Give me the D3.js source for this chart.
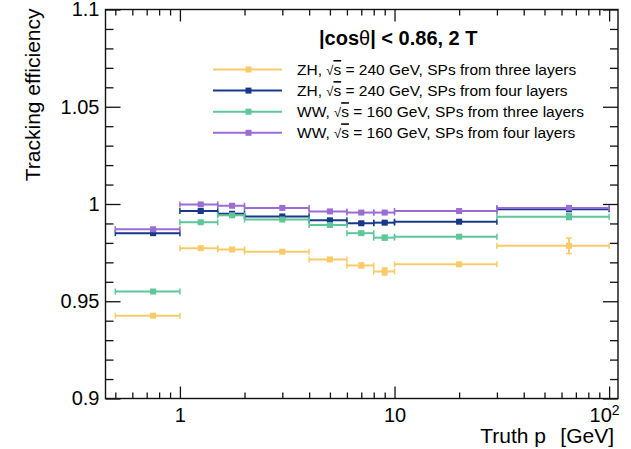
<!DOCTYPE html>
<html>
<head>
<meta charset="utf-8">
<script src="https://cdn.jsdelivr.net/npm/d3@7"></script>
<style>
  body { margin: 0; background: #fff; }
  svg { display: block; font-family: "Liberation Sans", Arial, Helvetica, sans-serif; }
</style>
</head>
<body>
<script>
// bin edges in truth pT [GeV]
const binLo = [0.5, 1, 1.5, 2, 4, 6, 8, 10, 30];
const binHi = [1, 1.5, 2, 4, 6, 8, 10, 30, 100];

// efficiencies
const zh3 = [0.9426, 0.9773, 0.9766, 0.9755, 0.9715, 0.9684, 0.9653, 0.9690, 0.9785];
const zh3Err = [0.0005, 0.0006, 0.0006, 0.0005, 0.0008, 0.0012, 0.0018, 0.0008, 0.0040];
const zh4 = [0.9850, 0.9964, 0.9950, 0.9936, 0.9916, 0.9901, 0.9904, 0.9909, 0.9973];
const zh4Err = [0.0004, 0.0004, 0.0004, 0.0003, 0.0005, 0.0006, 0.0006, 0.0004, 0.0010];
const ww3 = [0.9550, 0.9906, 0.9942, 0.9920, 0.9892, 0.9850, 0.9827, 0.9832, 0.9935];
const ww3Err = [0.0004, 0.0005, 0.0005, 0.0004, 0.0006, 0.0008, 0.0012, 0.0008, 0.0015];
const ww4 = [0.9870, 0.9998, 0.9991, 0.9980, 0.9962, 0.9956, 0.9956, 0.9964, 0.9980];
const ww4Err = [0.0004, 0.0003, 0.0003, 0.0003, 0.0004, 0.0005, 0.0005, 0.0004, 0.0008];

const seriesNames = [
  ["ZH, ", " = 240 GeV, SPs from three layers"],
  ["ZH, ", " = 240 GeV, SPs from four layers"],
  ["WW, ", " = 160 GeV, SPs from three layers"],
  ["WW, ", " = 160 GeV, SPs from four layers"]
];
const seriesColors = ["#f8cb68", "#17388b", "#5fc69a", "#9a6cd4"];
const seriesVals = [zh3, zh4, ww3, ww4];
const seriesErrs = [zh3Err, zh4Err, ww3Err, ww4Err];

const xMajor = [1, 10, 100];
const yMajor = [0.9, 0.95, 1, 1.05, 1.1];

const W = 631, H = 449;
const frame = { left: 105.5, right: 618, top: 9.5, bottom: 398.5 };

const x = d3.scaleLog().domain([0.45, 110]).range([frame.left, frame.right]);
const y = d3.scaleLinear().domain([0.9, 1.1]).range([frame.bottom, frame.top]);

const xMinor = [];
[0.1, 1, 10].forEach(dec => d3.range(2, 10).forEach(k => {
  const v = +(dec * k).toPrecision(3);
  if (v >= 0.45 && v <= 110) xMinor.push(v);
}));
const yMinor = d3.range(0, 21).map(i => +(0.9 + i * 0.01).toFixed(2)).filter(v => !yMajor.includes(v));

const svg = d3.select("body").append("svg")
  .attr("width", W)
  .attr("height", H);

// frame
svg.append("rect")
  .attr("x", frame.left).attr("y", frame.top)
  .attr("width", frame.right - frame.left)
  .attr("height", frame.bottom - frame.top)
  .attr("fill", "none")
  .attr("stroke", "#111")
  .attr("stroke-width", 1.4);

const styleAxis = g => {
  g.select(".domain").remove();
  g.selectAll("line").attr("stroke", "#111").attr("stroke-width", 1.3);
  g.selectAll("text").attr("fill", "#000").style("font-size", "20px")
    .style("font-family", "'Liberation Sans', Arial, sans-serif");
};

// x axis: bottom with labels, top mirrored
const xAxis = svg.append("g")
  .attr("transform", `translate(0,${frame.bottom})`)
  .call(d3.axisBottom(x).tickValues(xMajor).tickSize(-12).tickPadding(9).tickFormat(d => d === 100 ? "10" : String(d)))
  .call(styleAxis);
xAxis.selectAll(".tick").filter(d => d === 100).select("text")
  .attr("text-anchor", "end")
  .attr("x", 10)
  .append("tspan")
  .attr("dy", "-0.45em")
  .style("font-size", "14px")
  .text("2");

svg.append("g")
  .attr("transform", `translate(0,${frame.bottom})`)
  .call(d3.axisBottom(x).tickValues(xMinor).tickSize(-6).tickFormat(""))
  .call(styleAxis);
svg.append("g")
  .attr("transform", `translate(0,${frame.top})`)
  .call(d3.axisTop(x).tickValues(xMajor).tickSize(-12).tickFormat(""))
  .call(styleAxis);
svg.append("g")
  .attr("transform", `translate(0,${frame.top})`)
  .call(d3.axisTop(x).tickValues(xMinor).tickSize(-6).tickFormat(""))
  .call(styleAxis);

// y axis: left with labels, right mirrored
svg.append("g")
  .attr("transform", `translate(${frame.left},0)`)
  .call(d3.axisLeft(y).tickValues(yMajor).tickSize(-15).tickPadding(6).tickFormat(d3.format("~g")))
  .call(styleAxis);
svg.append("g")
  .attr("transform", `translate(${frame.left},0)`)
  .call(d3.axisLeft(y).tickValues(yMinor).tickSize(-8).tickFormat(""))
  .call(styleAxis);
svg.append("g")
  .attr("transform", `translate(${frame.right},0)`)
  .call(d3.axisRight(y).tickValues(yMajor).tickSize(-15).tickFormat(""))
  .call(styleAxis);
svg.append("g")
  .attr("transform", `translate(${frame.right},0)`)
  .call(d3.axisRight(y).tickValues(yMinor).tickSize(-8).tickFormat(""))
  .call(styleAxis);

// axis titles
svg.append("text")
  .attr("transform", `translate(40,${frame.top - 1}) rotate(-90)`)
  .attr("text-anchor", "end")
  .style("font-size", "21px")
  .text("Tracking efficiency");

const xTitle = svg.append("text")
  .attr("x", 614)
  .attr("y", 443)
  .attr("text-anchor", "end")
  .style("font-size", "21px");
xTitle.append("tspan").text("Truth p");
xTitle.append("tspan").attr("dy", 19).style("font-size", "14px").text("T");
xTitle.append("tspan").attr("dy", -19).text(" [GeV]");

// data: horizontal bin-width bars, vertical error bars, square markers
const cap = 3;
seriesVals.forEach((vals, s) => {
  const col = seriesColors[s];
  const errs = seriesErrs[s];
  const g = svg.append("g").attr("stroke", col).attr("stroke-width", 2);
  const rows = vals.map((v, i) => ({ v, e: errs[i], lo: binLo[i], hi: binHi[i], c: (binLo[i] + binHi[i]) / 2 }));

  g.selectAll(".hbar").data(rows).enter().append("line")
    .attr("x1", d => x(d.lo)).attr("x2", d => x(d.hi))
    .attr("y1", d => y(d.v)).attr("y2", d => y(d.v));
  g.selectAll(".hcapl").data(rows).enter().append("line")
    .attr("x1", d => x(d.lo)).attr("x2", d => x(d.lo))
    .attr("y1", d => y(d.v) - cap).attr("y2", d => y(d.v) + cap)
    .attr("stroke-width", 1.5);
  g.selectAll(".hcapr").data(rows).enter().append("line")
    .attr("x1", d => x(d.hi)).attr("x2", d => x(d.hi))
    .attr("y1", d => y(d.v) - cap).attr("y2", d => y(d.v) + cap)
    .attr("stroke-width", 1.5);
  g.selectAll(".vbar").data(rows).enter().append("line")
    .attr("x1", d => x(d.c)).attr("x2", d => x(d.c))
    .attr("y1", d => y(d.v - d.e)).attr("y2", d => y(d.v + d.e));
  g.selectAll(".vcapt").data(rows).enter().append("line")
    .attr("x1", d => x(d.c) - cap).attr("x2", d => x(d.c) + cap)
    .attr("y1", d => y(d.v + d.e)).attr("y2", d => y(d.v + d.e))
    .attr("stroke-width", 1.5);
  g.selectAll(".vcapb").data(rows).enter().append("line")
    .attr("x1", d => x(d.c) - cap).attr("x2", d => x(d.c) + cap)
    .attr("y1", d => y(d.v - d.e)).attr("y2", d => y(d.v - d.e))
    .attr("stroke-width", 1.5);
  g.selectAll("rect").data(rows).enter().append("rect")
    .attr("x", d => x(d.c) - 3).attr("y", d => y(d.v) - 3)
    .attr("width", 6).attr("height", 6)
    .attr("fill", col).attr("stroke", "none");
});

// legend header
const head = svg.append("text")
  .attr("x", 319).attr("y", 44.5)
  .style("font-size", "20px")
  .style("font-weight", "bold");
head.append("tspan").text("|cos");
head.append("tspan").style("font-weight", "normal").text("θ");
head.append("tspan").text("| < 0.86, 2 T");

// legend entries
const legY = [69.5, 90.6, 111.7, 132.8];
const leg = svg.append("g");
seriesNames.forEach((nm, s) => {
  const ly = legY[s];
  leg.append("line")
    .attr("x1", 213).attr("x2", 282)
    .attr("y1", ly).attr("y2", ly)
    .attr("stroke", seriesColors[s]).attr("stroke-width", 2);
  leg.append("rect")
    .attr("x", 245.5).attr("y", ly - 3).attr("width", 6).attr("height", 6)
    .attr("fill", seriesColors[s]);
  const t = leg.append("text")
    .attr("x", 297).attr("y", ly + 5.5)
    .style("font-size", "15.5px");
  t.append("tspan").text(nm[0]);
  t.append("tspan").style("font-size", "13px").text("√");
  t.append("tspan").attr("text-decoration", "overline").text("s");
  t.append("tspan").text(nm[1]);
});
</script>
</body>
</html>
